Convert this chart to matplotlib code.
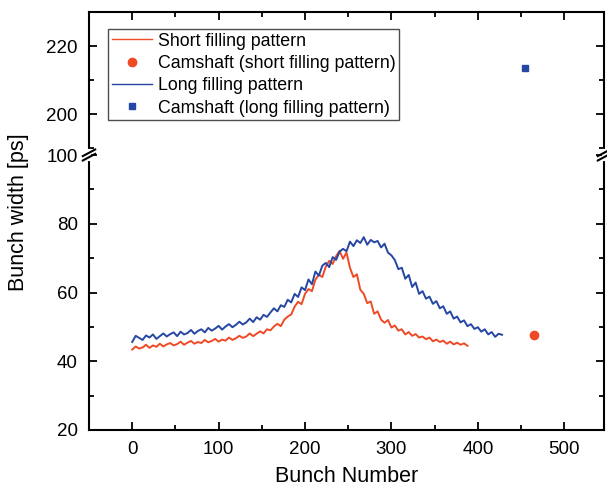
import numpy as np
import matplotlib
matplotlib.use("Agg")
import matplotlib.pyplot as plt
from matplotlib.ticker import MultipleLocator

plt.rcParams['font.family'] = ['Liberation Sans', 'DejaVu Sans']

# bunch-by-bunch widths, every 4 bunches
short_x = np.arange(0, 389, 4)
short_w = [43.4, 44.3, 43.7, 44.0, 44.8, 43.9, 44.6, 44.2, 45.1, 44.3,
           44.9, 45.3, 44.6, 45.0, 45.7, 44.8, 45.4, 45.9, 45.1, 45.6,
           45.3, 46.2, 45.5, 45.9, 46.5, 45.7, 46.3, 46.0, 46.9, 46.2,
           46.7, 47.4, 46.8, 47.2, 48.1, 47.3, 48.0, 48.7, 48.1, 49.3,
           49.0, 50.1, 50.9, 50.2, 52.1, 53.0, 53.6, 55.9, 57.3, 56.6,
           59.6, 61.0, 60.4, 63.7, 65.2, 64.5, 67.5, 69.2, 68.3, 70.6,
           72.1, 69.8, 71.6, 67.2, 64.5, 65.3, 60.8, 59.6, 56.9, 57.4,
           53.8, 54.5, 52.1, 51.2, 52.0, 49.8, 50.4, 48.9, 49.3, 47.8,
           48.5, 47.4, 47.9, 46.9, 47.2, 46.4, 46.9, 45.8, 46.3, 45.6,
           46.0, 45.1, 45.7, 44.9, 45.4, 44.8, 45.2, 44.5]

long_x = np.arange(0, 429, 4)
long_w = [45.6, 47.4, 46.8, 46.2, 47.5, 46.9, 47.8, 46.5, 47.3, 48.1,
          47.2, 47.9, 48.4, 47.3, 48.6, 47.8, 48.2, 49.1, 48.0, 48.8,
          49.3, 48.4, 49.7, 48.9, 49.5, 50.3, 49.2, 50.1, 50.8, 49.9,
          50.6, 51.5, 50.7, 51.3, 52.4, 51.4, 52.8, 52.1, 53.5, 52.9,
          54.2, 55.4, 54.5, 56.3, 55.8, 57.9, 57.1, 59.6, 58.7, 61.5,
          60.7, 63.8, 62.4, 66.1, 64.9, 67.8, 68.6, 67.4, 70.3, 69.5,
          71.9, 72.7, 72.0, 74.8, 73.5, 75.2, 74.4, 76.1, 73.9, 75.3,
          74.6, 75.0, 73.1, 74.2, 71.6, 70.8, 69.4, 66.8, 67.2, 64.0,
          65.1, 61.6, 62.9, 59.6, 60.4, 58.2, 58.8, 56.7, 57.5, 55.4,
          56.0, 53.8, 54.5, 52.4, 53.0, 51.3, 51.9, 50.2, 50.8, 49.4,
          49.9, 48.6, 49.3, 47.8, 48.5, 47.1, 48.0, 47.7]

cam_short = (465, 47.5)
cam_long = (455, 213.5)

red = '#EF4A26'
blue = '#2546A3'

fig = plt.figure(figsize=(6.07, 4.87), dpi=100)
left, right = 89 / 607, 604 / 607
y_top, y_brk, y_bot = 1 - 12 / 487, 1 - 155 / 487, 1 - 430 / 487
ax_hi = fig.add_axes([left, y_brk, right - left, y_top - y_brk])
ax_lo = fig.add_axes([left, y_bot, right - left, y_brk - y_bot])

for ax in (ax_hi, ax_lo):
    l1, = ax.plot(short_x, short_w, color=red, lw=1.4)
    m1, = ax.plot(*cam_short, 'o', color=red, ms=6, ls='none')
    l2, = ax.plot(long_x, long_w, color=blue, lw=1.4)
    m2, = ax.plot(*cam_long, 's', color=blue, ms=5, ls='none')
    ax.set_xlim(-50, 546)
    ax.xaxis.set_major_locator(MultipleLocator(100))
    ax.xaxis.set_minor_locator(MultipleLocator(50))
    ax.yaxis.set_major_locator(MultipleLocator(20))
    ax.yaxis.set_minor_locator(MultipleLocator(10))
    ax.tick_params(which='both', direction='in', width=1.3, labelsize=13.5,
                   left=True, right=True, pad=8)
    ax.tick_params(which='major', length=6)
    ax.tick_params(which='minor', length=3.5)
    for s in ax.spines.values():
        s.set_linewidth(1.5)

ax_hi.set_ylim(188, 230)
ax_lo.set_ylim(20, 100)
ax_hi.spines['bottom'].set_visible(False)
ax_lo.spines['top'].set_visible(False)
ax_hi.tick_params(which='both', bottom=False, labelbottom=False, top=True)
ax_lo.tick_params(which='both', top=False)

ax_lo.set_xlabel('Bunch Number', fontsize=15.5, labelpad=6)
fig.text(0.03, 0.565, 'Bunch width [ps]', rotation=90, fontsize=15.5,
         ha='center', va='center')

leg = ax_hi.legend([l1, m1, l2, m2],
                   ['Short filling pattern', 'Camshaft (short filling pattern)',
                    'Long filling pattern', 'Camshaft (long filling pattern)'],
                   loc='upper left', bbox_to_anchor=(0.037, 0.881), fontsize=12.8,
                   frameon=True, fancybox=False, edgecolor='#222222',
                   borderpad=0.2, labelspacing=0.3, handlelength=2.25,
                   handletextpad=0.35, borderaxespad=0)
leg.get_frame().set_linewidth(1.0)
for h in leg.get_lines():
    h.set_linewidth(1.0)

# axis break marks on both spines
for xa in (0.0, 1.0):
    ax_lo.plot([xa, xa], [0.985, 1.015], transform=ax_lo.transAxes,
               color='white', lw=3, clip_on=False, zorder=5)
    for dy in (-0.008, 0.008):
        ax_lo.plot([xa - 0.012, xa + 0.012], [1 + dy - 0.012, 1 + dy + 0.012],
                   transform=ax_lo.transAxes, color='black', lw=1.5,
                   clip_on=False, zorder=6)

fig.savefig('out.png', dpi=100)
